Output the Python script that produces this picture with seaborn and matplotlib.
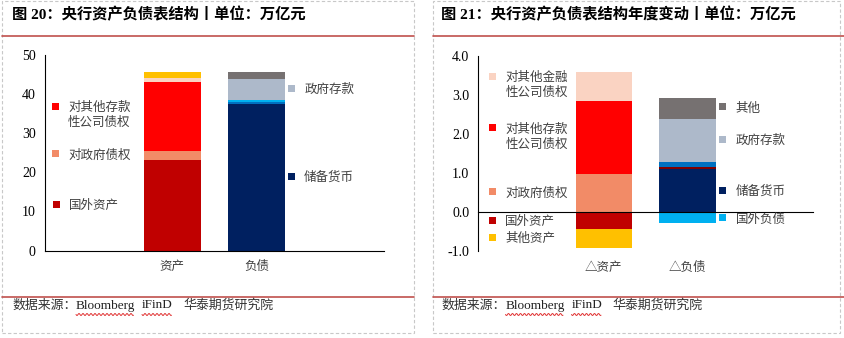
import numpy as np
import matplotlib
matplotlib.use("Agg")
import matplotlib.pyplot as plt
import matplotlib.transforms as mtransforms
from matplotlib.patches import Rectangle
from matplotlib.lines import Line2D
import seaborn as sns

# ---------------- data ----------------
cats_left = ["", "资产", "负债", " "]
cats_right = ["", "△资产", "△负债", " "]

asset_series = ["国外资产", "对政府债权", "对其他存款性公司债权", "对其他金融性公司债权", "其他资产"]
asset_level = [23.1, 2.3, 17.6, 1.0, 1.6]          # 图20 资产 (万亿元)
asset_change = [-0.43, 0.98, 1.87, 0.74, -0.49]    # 图21 △资产

liab_series = ["储备货币", "不计入储备货币的金融性公司存款", "发行债券", "国外负债", "政府存款", "其他"]
liab_level = [37.45, 0.0, 0.57, 0.43, 5.4, 1.75]   # 图20 负债
liab_change = [1.09, 0.07, 0.13, -0.27, 1.10, 0.54]  # 图21 △负债

left_yticks = [0, 10, 20, 30, 40, 50]
left_yticklabels = ["0", "10", "20", "30", "40", "50"]
right_yticks = [-1, 0, 1, 2, 3, 4]
right_yticklabels = ["-1.0", "0.0", "1.0", "2.0", "3.0", "4.0"]

title_left = "图 20：央行资产负债表结构丨单位：万亿元"
title_right = "图 21：央行资产负债表结构年度变动丨单位：万亿元"

COLORS = {
    "国外资产": "#C00000",
    "对政府债权": "#F28B67",
    "对其他存款性公司债权": "#FF0000",
    "对其他金融性公司债权": "#FAD3C2",
    "其他资产": "#FFC000",
    "储备货币": "#002060",
    "不计入储备货币的金融性公司存款": "#7F0000",
    "发行债券": "#0070C0",
    "国外负债": "#00B0F0",
    "政府存款": "#ADB9CA",
    "其他": "#767171",
}

# ---------------- style ----------------
sns.set_style("white")
plt.rcParams['font.family'] = ['Liberation Serif', 'Noto Sans CJK SC', 'DejaVu Sans']
plt.rcParams['axes.unicode_minus'] = False
CJK = ['Noto Sans CJK SC', 'DejaVu Sans']
SERIF_CJK = ['Liberation Serif', 'Noto Sans CJK SC']

W, H = 845, 338
fig = plt.figure(figsize=(W / 100, H / 100), dpi=100)


def fx(px):
    return px / W


def fy(py):
    return 1 - py / H


BAR_W = 0.67


def stacked(ax, cat, order, names, values):
    pos, neg = 0.0, 0.0
    outer = []
    for n, v in zip(names, values):
        if v == 0:
            continue
        if v > 0:
            pos += v
            outer.append((pos, n))
        else:
            neg += v
            outer.append((neg, n))
    for edge, n in sorted(outer, key=lambda t: -abs(t[0])):
        sns.barplot(x=[cat], y=[edge], order=order, color=COLORS[n], saturation=1,
                    width=BAR_W, errorbar=None, linewidth=0, ax=ax)


def style_axis(ax, ylim, yticks, ylabels, cats, label_off):
    ax.set_xlim(-0.5, 3.5)
    ax.set_ylim(*ylim)
    ax.set_yticks(yticks)
    ax.set_yticklabels(ylabels, fontfamily='Liberation Serif', fontsize=10, color='black')
    ax.set_xticks([-0.5, 0.5, 1.5, 2.5, 3.5])
    ax.set_xticklabels([])
    ax.tick_params(axis='x', direction='out', length=3.2, width=0.8, color='black')
    ax.tick_params(axis='y', direction='out', length=3.6, width=0.8, pad=3, color='black')
    for s in ['top', 'right']:
        ax.spines[s].set_visible(False)
    for s in ['left', 'bottom']:
        ax.spines[s].set_color('black')
        ax.spines[s].set_linewidth(0.8)
    ax.spines['bottom'].set_position(('data', 0))
    ax.set_xlabel('')
    ax.set_ylabel('')
    ax.grid(False)
    ax.patch.set_alpha(0)
    trans = mtransforms.blended_transform_factory(ax.transData, ax.transAxes)
    for i, c in enumerate(cats):
        if c.strip():
            ax.text(i, -label_off, c, transform=trans, ha='center', va='center',
                    fontsize=9, family=CJK, color='#404040')


# ---------------- axes ----------------
axL = fig.add_axes([fx(45), fy(250.7), fx(384) - fx(45), (250.7 - 54.7) / H])
axR = fig.add_axes([fx(478.3), fy(251), fx(813) - fx(478.3), (251 - 56) / H])

stacked(axL, cats_left[1], cats_left, asset_series, asset_level)
stacked(axL, cats_left[2], cats_left, liab_series, liab_level)
stacked(axR, cats_right[1], cats_right, asset_series, asset_change)
stacked(axR, cats_right[2], cats_right, liab_series, liab_change)

style_axis(axL, (0, 50), left_yticks, left_yticklabels, cats_left, 16 / 196)
style_axis(axR, (-1, 4), right_yticks, right_yticklabels, cats_right, 16.7 / 195)


# ---------------- legend-like labels ----------------
def item(x, y, name, label, ty=None):
    r = Rectangle((fx(x - 3.5), fy(y + 3.5)), 7 / W, 7 / H, transform=fig.transFigure,
                  facecolor=COLORS[name], edgecolor='none')
    fig.patches.append(r)
    lines = label.count("\n") + 1
    if ty is None:
        ty = y + 1.5 + (lines - 1) * 7
    fig.text(fx(x + 12.5), fy(ty), label, ha='left', va='center', fontsize=9,
             family=CJK, color='#404040', linespacing=1.2)


item(55.5, 106.7, "对其他存款性公司债权", "对其他存款\n性公司债权")
item(55.5, 153.7, "对政府债权", "对政府债权")
item(56.5, 204, "国外资产", "国外资产")
item(292, 88, "政府存款", "政府存款")
item(291, 176, "储备货币", "储备货币")

item(492.7, 76.7, "对其他金融性公司债权", "对其他金融\n性公司债权")
item(492.7, 128, "对其他存款性公司债权", "对其他存款\n性公司债权")
item(492.7, 191.7, "对政府债权", "对政府债权")
item(492.7, 220, "国外资产", "国外资产")
item(492.7, 237.3, "其他资产", "其他资产")
item(723, 106.7, "其他", "其他")
item(723, 139, "政府存款", "政府存款")
item(723, 190, "储备货币", "储备货币")
item(723, 217.7, "国外负债", "国外负债")

# ---------------- frames, titles, source ----------------
for (x0, x1) in [(2, 414), (433, 840)]:
    fig.patches.append(Rectangle((fx(x0), fy(333)), (x1 - x0) / W, 332 / H,
                                 transform=fig.transFigure, facecolor='none',
                                 edgecolor='#C8C8C8', linewidth=0.8, linestyle=(0, (3, 2))))
for (x0, x1) in [(2, 414), (433, 845)]:
    for yy in (36, 297.3):
        fig.add_artist(Line2D([fx(x0), fx(x1)], [fy(yy), fy(yy)], transform=fig.transFigure,
                              color='#C0504D', linewidth=1.2))

fig.text(fx(12.5), fy(14), title_left, ha='left', va='center', fontsize=11,
         fontweight='bold', family=SERIF_CJK, color='black')
fig.text(fx(441), fy(14), title_right, ha='left', va='center', fontsize=11,
         fontweight='bold', family=SERIF_CJK, color='black')

for off in (0, 429.5):
    ys = 305.5
    fig.text(fx(12 + off), fy(ys), "数据来源：", ha='left', va='center', fontsize=9.3,
             family=CJK, color='#333333')
    fig.text(fx(76 + off), fy(ys), "Bloomberg", ha='left', va='center', fontsize=9.5,
             family=['Liberation Serif'], color='#222222')
    fig.text(fx(142 + off), fy(ys), "iFinD", ha='left', va='center', fontsize=9.5,
             family=['Liberation Serif'], color='#222222')
    fig.text(fx(183 + off), fy(ys), "华泰期货研究院", ha='left', va='center', fontsize=9.3,
             family=CJK, color='#333333')
    for (a, b) in [(76, 134), (142, 172)]:
        xs = np.arange(a + off, b + off, 0.5)
        wy = 314.5 + 1.0 * np.sin(2 * np.pi * (xs - a - off) / 4.0)
        fig.add_artist(Line2D(fx(xs), fy(wy), transform=fig.transFigure,
                              color='#E03030', linewidth=0.7))

fig.savefig("out.png", dpi=100)
